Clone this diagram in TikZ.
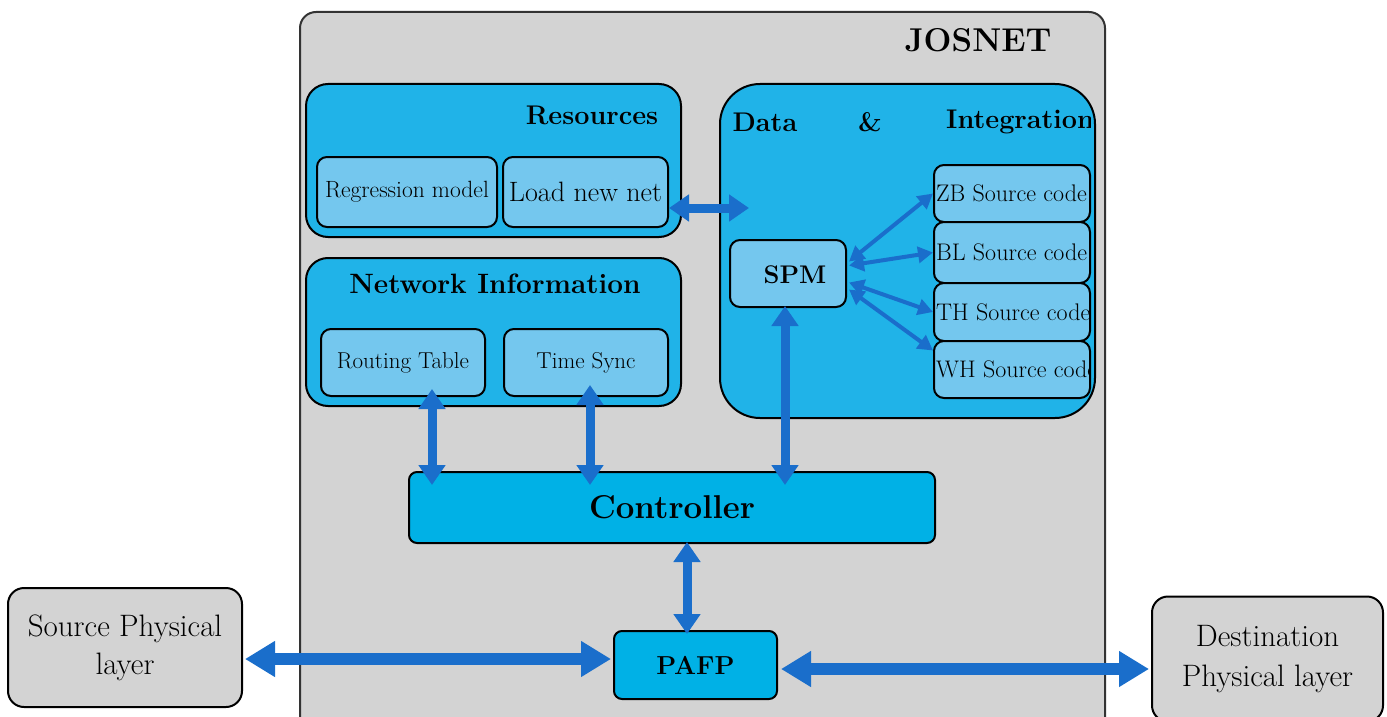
\documentclass[tikz,border=0pt]{standalone}
\usetikzlibrary{arrows.meta,calc}
\definecolor{outergray}{HTML}{D3D3D3}
\definecolor{midcyan}{HTML}{20B3E8}
\definecolor{lightcyan}{HTML}{74C7EE}
\definecolor{ctrlcyan}{HTML}{00B1E6}
\definecolor{arrowblue}{HTML}{1A6ECB}
\newcommand{\fsz}[2]{\fontsize{#1}{#2}\selectfont}
\tikzset{
  panel/.style={draw=black, line width=2pt, fill=midcyan, rounded corners=22pt},
  subbox/.style={draw=black, line width=2pt, fill=lightcyan, rounded corners=10pt, inner sep=0pt},
  graybox/.style={draw=black, line width=2pt, fill=outergray, rounded corners=16pt, inner sep=0pt, align=center},
  lbl/.style={inner sep=0pt},
  bigarrow/.style={draw=arrowblue, line width=9pt, {Triangle[width=26pt,length=20pt]}-{Triangle[width=26pt,length=20pt]}},
  hugearrow/.style={draw=arrowblue, line width=12pt, {Triangle[width=34pt,length=30pt]}-{Triangle[width=34pt,length=30pt]}},
  thinarrow/.style={draw=arrowblue, line width=4pt, {Triangle[width=16pt,length=15pt]}-{Triangle[width=16pt,length=15pt]}},
}
\begin{document}
\begin{tikzpicture}[x=1pt,y=-1pt]
\useasboundingbox (0,0) rectangle (1387,717);
% outer JOSNET box
\path[draw=black!80, line width=2pt, fill=outergray, rounded corners=16pt] (300,12) rectangle (1105,740);
\node[lbl, font=\fsz{33}{40}\bfseries] (josnet) at (978,40) {JOSNET};

% Resources
\node[panel, minimum width=375, minimum height=153] (res) at (493.5,160.5) {};
\node[lbl, font=\fsz{27}{32}\bfseries] (restitle) at (592,115) {Resources};
\node[subbox, minimum width=180, minimum height=70, font=\fsz{23.5}{28}] (reg) at (407,192) {Regression model};
\node[subbox, minimum width=165, minimum height=70, font=\fsz{28}{32}] (lnn) at (585.5,192) {Load new net};

% Network information
\node[panel, minimum width=375, minimum height=148] (net) at (493.5,332) {};
\node[lbl, font=\fsz{28}{32}\bfseries] (nettitle) at (495,284) {Network Information};
\node[subbox, minimum width=164, minimum height=67, font=\fsz{23}{28}] (rt) at (403,362.5) {Routing Table};
\node[subbox, minimum width=164, minimum height=67, font=\fsz{23}{28}] (ts) at (586,362.5) {Time Sync};

% Data & Integration
\node[panel, rounded corners=40pt, minimum width=375, minimum height=334] (dat) at (907.5,251) {};
\begin{scope}
  \clip (720,84) rectangle (1090,418);
  \node[lbl, font=\fsz{27}{32}\bfseries] (dlab) at (765,122) {Data};
  \node[lbl, font=\fsz{27}{32}\bfseries] (amp) at (870,122) {\&};
  \node[lbl, font=\fsz{27}{32}\bfseries, anchor=west] (ilab) at (946,122) {Integration};
\end{scope}
\node[subbox, minimum width=116, minimum height=67] (spm) at (788,273.5) {};
\node[lbl, font=\fsz{25.5}{30}\bfseries] (spmtxt) at ($(spm.center)+(7,1)$) {SPM};

\foreach \nm/\tx/\ya/\yb in {zb/ZB/165/222, bl/BL/222/283, th/TH/283/341, wh/WH/341/398}{
  \node[subbox, minimum width=156, minimum height=\yb-\ya] (\nm) at (1012,{(\ya+\yb)/2}) {};
  \begin{scope}
    \clip ($(\nm.south west)+(1,0)$) rectangle ($(\nm.north east)+(-3,0)$);
    \node[lbl, anchor=west, font=\fsz{24}{28}] (\nm txt) at ($(\nm.west)+(3,0)$) {\tx{} Source code};
  \end{scope}
}

% Controller & PAFP
\node[draw=black, line width=2pt, fill=ctrlcyan, rounded corners=8pt, minimum width=526, minimum height=71, font=\fsz{33}{38}\bfseries] (ctrl) at (672,507.5) {Controller};
\node[draw=black, line width=2pt, fill=ctrlcyan, rounded corners=8pt, minimum width=163, minimum height=68, font=\fsz{26}{30}\bfseries] (pafp) at (695.5,665) {PAFP};

% physical layers
\node[graybox, minimum width=234, minimum height=119, font=\fsz{31}{38}] (src) at (125,647.5) {Source Physical\\layer};
\node[graybox, minimum width=231, minimum height=125, font=\fsz{31}{40}] (dst) at (1267.5,659) {Destination\\Physical layer};

% connector end points
\coordinate (lnnA) at ($(lnn.east)+(0,16)$);
\coordinate (datA) at ($(dat.west)+(30,0)$);
\coordinate (rtA) at ($(rt.south)+(29,-8)$);
\coordinate (tsA) at ($(ts.south)+(4,-12)$);
\coordinate (spmA) at ($(spm.south)+(-3,-2)$);
\coordinate (ctrlTop) at ($(ctrl.north)+(0,14)$);
\coordinate (ctrlB) at ($(ctrl.south)+(15,-2)$);
\coordinate (pafpTop) at ($(pafp.north)+(0,4)$);

\draw[bigarrow] (lnnA) -- (datA |- lnnA);
\draw[bigarrow] (rtA) -- (rtA |- ctrlTop);
\draw[bigarrow] (tsA) -- (tsA |- ctrlTop);
\draw[bigarrow] (spmA) -- (spmA |- ctrlTop);
\draw[bigarrow] (ctrlB) -- (ctrlB |- pafpTop);
\draw[hugearrow] ($(src.east)+(2,11.5)$) -- ($(pafp.west)+(-2,-6)$);
\draw[hugearrow] ($(pafp.east)+(3,4)$) -- ($(dst.west)+(-2,10)$);
\draw[thinarrow] ($(spm.east)+(2,-12)$) -- (zb.west);
\draw[thinarrow] ($(spm.east)+(2,-8)$) -- (bl.west);
\draw[thinarrow] ($(spm.east)+(2,9)$) -- (th.west);
\draw[thinarrow] ($(spm.east)+(2,16)$) -- ($(wh.west)+(0,-19)$);
\end{tikzpicture}
\end{document}
